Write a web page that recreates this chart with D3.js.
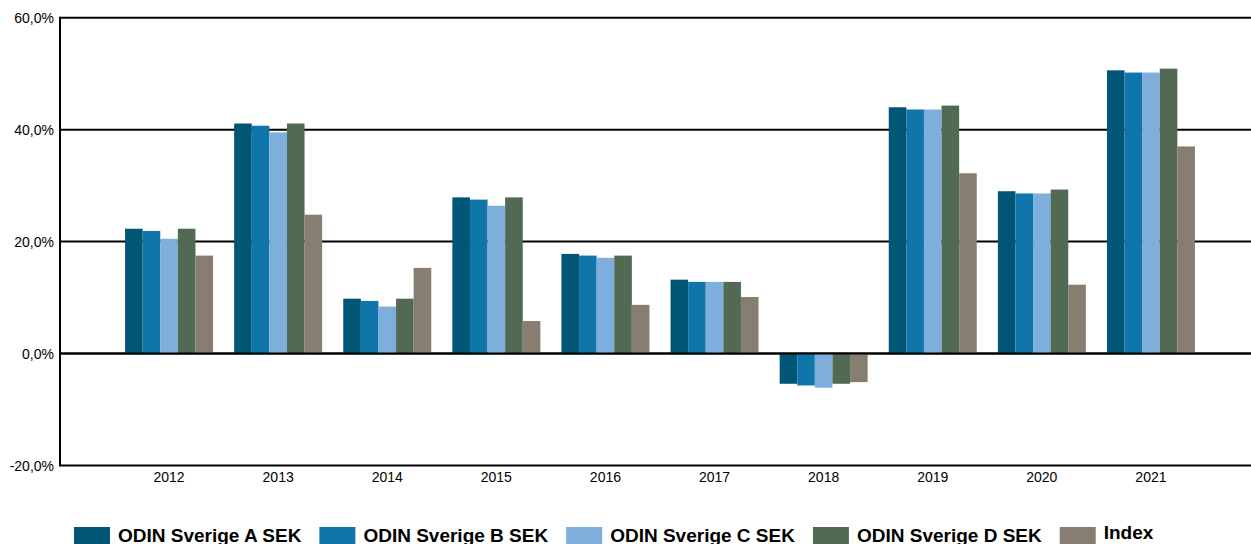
<!DOCTYPE html>
<html>
<head>
<meta charset="utf-8">
<script src="https://cdn.jsdelivr.net/npm/d3@7"></script>
<style>
  body { margin: 0; background: #fff; }
  svg { display: block; }
  .tick-label { font-family: "Liberation Sans", Arial, sans-serif; font-size: 14px; fill: #000; }
  .legend-label { font-family: "Liberation Sans", Arial, sans-serif; font-weight: bold; font-size: 19px; fill: #000; }
</style>
</head>
<body>
<div id="chart"></div>
<script>
var years = ["2012", "2013", "2014", "2015", "2016", "2017", "2018", "2019", "2020", "2021"];
var seriesNames = ["ODIN Sverige A SEK", "ODIN Sverige B SEK", "ODIN Sverige C SEK", "ODIN Sverige D SEK", "Index"];
var sverigeA = [22.3, 41.1, 9.8, 27.9, 17.8, 13.2, -5.4, 44.0, 29.0, 50.6];
var sverigeB = [21.9, 40.7, 9.4, 27.5, 17.5, 12.8, -5.7, 43.6, 28.6, 50.2];
var sverigeC = [20.5, 39.5, 8.4, 26.4, 17.1, 12.8, -6.1, 43.6, 28.6, 50.2];
var sverigeD = [22.3, 41.1, 9.8, 27.9, 17.5, 12.8, -5.4, 44.3, 29.3, 50.9];
var indexVals = [17.5, 24.8, 15.3, 5.8, 8.7, 10.1, -5.1, 32.2, 12.3, 37.0];
var yTicks = [-20, 0, 20, 40, 60];
var colors = ["#025675", "#1076aa", "#7daedc", "#526a54", "#877d71"];

var allSeries = [sverigeA, sverigeB, sverigeC, sverigeD, indexVals];

var W = 1251, H = 544;
var plotLeft = 60, plotRight = 1251;

var svg = d3.select("#chart").append("svg")
  .attr("width", W)
  .attr("height", H);

var y = d3.scaleLinear()
  .domain([-20, 60])
  .range([465.5, 17.7]);

var x0 = d3.scaleBand()
  .domain(years)
  .range([114.5, 1205.5]);

var x1 = d3.scaleBand()
  .domain(seriesNames)
  .range([-44, 44]);

// horizontal grid lines
svg.append("g")
  .selectAll("line")
  .data(yTicks)
  .enter()
  .append("line")
    .attr("x1", plotLeft)
    .attr("x2", plotRight)
    .attr("y1", function(d) { return y(d); })
    .attr("y2", function(d) { return y(d); })
    .attr("stroke", "#000")
    .attr("stroke-width", 2);

// y tick labels
svg.append("g")
  .selectAll("text")
  .data(yTicks)
  .enter()
  .append("text")
    .attr("class", "tick-label")
    .attr("x", 54)
    .attr("y", function(d) { return y(d); })
    .attr("text-anchor", "end")
    .attr("dominant-baseline", "central")
    .text(function(d) { return d.toFixed(1).replace(".", ",") + "%"; });

// bars
var groups = svg.append("g")
  .selectAll("g")
  .data(years)
  .enter()
  .append("g")
    .attr("transform", function(d) { return "translate(" + (x0(d) + x0.bandwidth() / 2) + ",0)"; });

groups.selectAll("rect")
  .data(function(d, i) {
    return seriesNames.map(function(name, s) { return { key: name, value: allSeries[s][i], color: colors[s] }; });
  })
  .enter()
  .append("rect")
    .attr("x", function(d) { return x1(d.key); })
    .attr("width", x1.bandwidth())
    .attr("y", function(d) { return y(Math.max(0, d.value)); })
    .attr("height", function(d) { return Math.abs(y(d.value) - y(0)); })
    .attr("fill", function(d) { return d.color; });

// zero line and left axis on top
svg.append("line")
  .attr("x1", plotLeft).attr("x2", plotRight)
  .attr("y1", y(0)).attr("y2", y(0))
  .attr("stroke", "#000").attr("stroke-width", 2);

svg.append("line")
  .attr("x1", plotLeft).attr("x2", plotLeft)
  .attr("y1", y(60) - 1).attr("y2", y(-20) + 1)
  .attr("stroke", "#000").attr("stroke-width", 2);

// x labels
svg.append("g")
  .selectAll("text")
  .data(years)
  .enter()
  .append("text")
    .attr("class", "tick-label")
    .attr("x", function(d) { return x0(d) + x0.bandwidth() / 2; })
    .attr("y", 482)
    .attr("text-anchor", "middle")
    .text(function(d) { return d; });

// legend
var legend = svg.append("g");
var lx = 74;
seriesNames.forEach(function(name, i) {
  legend.append("rect")
    .attr("x", lx)
    .attr("y", 527)
    .attr("width", 36)
    .attr("height", 20)
    .attr("fill", colors[i]);
  var t = legend.append("text")
    .attr("class", "legend-label")
    .attr("x", lx + 44)
    .attr("y", name === "Index" ? 539 : 542)
    .text(name);
  lx += 44 + t.node().getComputedTextLength() + 18;
});
</script>
</body>
</html>
